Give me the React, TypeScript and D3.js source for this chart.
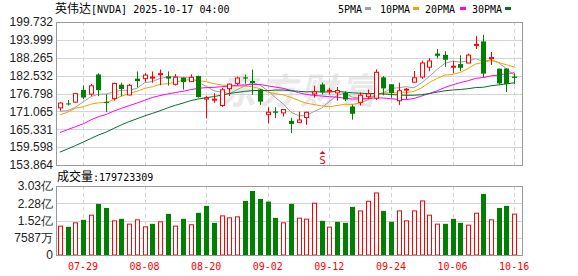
import React from "react";
import * as d3 from "d3";

const dates = ["07-24","07-25","07-28","07-29","07-30","07-31","08-01","08-04","08-05","08-06","08-07","08-08","08-11","08-12","08-13","08-14","08-15","08-18","08-19","08-20","08-21","08-22","08-25","08-26","08-27","08-28","08-29","09-02","09-03","09-04","09-05","09-08","09-09","09-10","09-11","09-12","09-15","09-16","09-17","09-18","09-19","09-22","09-23","09-24","09-25","09-26","09-29","09-30","10-01","10-02","10-03","10-06","10-07","10-08","10-09","10-10","10-13","10-14","10-15","10-16"];
const opens = [172.19,173.61,174.02,177.96,176.6,182.9,174.09,175.16,179.62,176.33,181.56,181.57,181.9,182.96,182.3,179.75,181.88,180.6,182.43,175.0,174.85,172.94,178.35,180.06,181.98,180.82,178.11,170.0,171.06,170.57,168.03,167.55,169.08,176.64,179.68,177.77,177.0,177.0,172.64,173.98,175.77,175.3,181.97,179.77,174.48,178.17,180.43,182.08,185.24,189.6,189.19,185.5,186.23,186.57,192.23,193.51,187.97,184.77,184.8,182.23];
const highs = [174.0,174.72,177.0,179.38,179.89,183.3,176.54,180.26,180.26,179.88,183.88,183.3,183.85,184.48,183.9,183.03,181.9,182.94,182.5,176.0,176.9,178.58,180.0,182.2,182.84,184.47,178.15,172.38,172.41,171.86,169.03,170.96,170.98,179.29,180.28,178.59,178.85,177.5,173.2,177.1,178.08,184.55,182.42,179.78,180.26,178.6,184.0,187.35,188.14,191.05,190.36,187.23,189.06,189.6,195.3,195.62,190.11,184.8,184.87,183.28];
const lows = [171.3,172.96,173.97,175.02,176.04,175.93,170.89,174.52,175.9,176.24,178.8,180.4,180.25,179.46,179.35,179.35,178.04,180.59,175.47,168.8,173.82,172.44,176.0,179.45,179.96,176.41,173.15,167.22,168.89,169.41,164.07,167.35,166.73,175.47,176.48,176.45,174.51,174.38,168.41,172.96,175.18,174.71,176.21,175.4,173.13,174.9,180.32,181.48,183.9,188.06,185.38,183.33,184.0,186.54,191.06,182.05,185.96,179.7,177.29,179.77];
const closes = [173.74,173.5,176.75,175.51,179.27,177.87,173.72,180.0,178.26,179.42,180.77,182.7,182.06,183.16,181.59,182.02,180.45,182.01,175.64,175.4,174.98,177.99,179.81,181.77,181.6,180.17,174.18,170.78,170.62,171.66,167.02,168.31,170.76,177.33,177.17,177.82,177.75,174.88,170.29,176.24,176.67,183.61,178.43,176.97,177.69,178.19,181.85,186.58,187.24,188.89,187.62,185.54,185.04,189.11,192.57,183.16,188.32,180.03,179.83,181.81];
// volume in millions of shares
const volumes = [126.9,124.0,141.5,154.7,175.0,224.7,207.0,150.3,159.0,135.7,154.7,124.0,137.0,145.9,181.0,127.0,159.0,133.0,185.3,216.0,141.5,172.0,163.4,167.8,237.8,281.6,246.6,234.9,163.4,141.5,224.7,162.0,157.6,227.6,150.3,122.6,145.9,141.5,211.6,194.0,236.4,272.9,194.0,145.9,194.0,150.3,194.0,237.8,175.0,135.7,137.0,159.0,141.5,131.3,183.8,268.5,154.7,207.0,216.0,179.723309];
// closes before the window (for moving averages)
const priorCloses = [142.83,145.0,141.97,144.69,144.12,145.48,143.85,144.17,147.9,154.31,155.02,157.75,157.99,153.3,157.25,159.34,158.24,160.0,162.88,164.1,164.92,164.07,170.7,171.37,173.0,172.41,171.38,167.03,170.78];

const priceTicks = [153.864,159.598,165.331,171.065,176.798,182.532,188.265,193.999,199.732];
const volTicks = [0, 75.87, 151.73, 227.6, 303.46];
const volTickLabels = ["0","7587万","1.52亿","2.28亿","3.03亿"];
const xTickDates = ["07-29","08-08","08-20","09-02","09-12","09-24","10-06","10-16"];
const maPeriods = [5, 10, 20, 30];
const maNames = ["5PMA","10PMA","20PMA","30PMA"];
const maColors = ["#a0a0a0","#f5a000","#ff00ff","#00702a"];

const RED = "#ff0000";
const GREEN = "#008000";
const GRID = "#d4d4d4";
const FRAME = "#999999";

export default function App() {
  const L = 56, R = 522;
  const mainTop = 22, mainBot = 165;
  const volTop = 186, volBot = 255;

  const x = d3.scaleBand<string>().domain(dates).range([56, 518]);
  const cx = (d: string) => (x(d) as number) + x.bandwidth() / 2;
  const y = d3.scaleLinear().domain([153.864, 199.732]).range([mainBot, mainTop]);
  const yv = d3.scaleLinear().domain([0, 303.46]).range([volBot, volTop]);

  const all = [...priorCloses, ...closes];
  const off = priorCloses.length;
  const mas = maPeriods.map((p) =>
    closes.map((_, i) => d3.mean(all.slice(off + i - p + 1, off + i + 1)) as number)
  );
  const line = d3.line<number>().x((_, i) => cx(dates[i])).y((v) => y(v));

  const bw = 5;
  const mono = "'DejaVu Sans Mono', 'Liberation Mono', monospace";
  const cjk = "'Noto Sans CJK SC', sans-serif";
  const sans = "'Liberation Sans', Arial, sans-serif";

  const legendX = [338, 380, 425, 472];
  const swatchX = [365, 413, 460, 505];
  const sIdx = dates.indexOf("09-11");

  return (
    <svg width={578} height={276} style={{ position: "absolute", left: 0, top: 0, background: "#fff" }}>
      {/* title */}
      <text x={55} y={13} fontSize={12} fill="#000">
        <tspan fontFamily={cjk}>英伟达</tspan>
        <tspan fontFamily={mono} fontSize={10}>[NVDA] 2025-10-17 04:00</tspan>
      </text>
      {/* legend */}
      {maNames.map((n, k) => (
        <g key={n}>
          <text x={legendX[k]} y={13} fontFamily={mono} fontSize={10} fill="#000">{n}</text>
          <rect x={swatchX[k]} y={7} width={6} height={3} fill={maColors[k]} />
        </g>
      ))}

      {/* watermark */}
      <text x={300} y={104} textAnchor="middle" fontFamily={cjk} fontSize={36} fontWeight={700}
        fontStyle="italic" fill="#e9e9e9" letterSpacing={4}>东方财富</text>

      {/* main grid */}
      {priceTicks.slice(1, -1).map((t) => (
        <line key={t} x1={L} x2={R} y1={Math.round(y(t)) + 0.5} y2={Math.round(y(t)) + 0.5} stroke={GRID} />
      ))}
      {xTickDates.map((d) => (
        <line key={d} x1={Math.round(cx(d)) + 0.5} x2={Math.round(cx(d)) + 0.5} y1={mainTop} y2={mainBot}
          stroke={GRID} strokeDasharray="4,3" />
      ))}
      {/* volume grid */}
      {volTicks.slice(1, -1).map((t) => (
        <line key={t} x1={L} x2={R} y1={Math.round(yv(t)) + 0.5} y2={Math.round(yv(t)) + 0.5} stroke={GRID} />
      ))}
      {xTickDates.map((d) => (
        <line key={"v" + d} x1={Math.round(cx(d)) + 0.5} x2={Math.round(cx(d)) + 0.5} y1={volTop} y2={volBot}
          stroke={GRID} strokeDasharray="4,3" />
      ))}

      {/* MA lines */}
      {mas.map((m, k) => (
        <path key={k} d={line(m) || ""} fill="none" stroke={maColors[k]} strokeWidth={1} />
      ))}

      {/* candles */}
      {dates.map((d, i) => {
        const up = closes[i] >= opens[i];
        const c = up ? RED : GREEN;
        const xc = Math.round(cx(d)) + 0.5;
        const top = y(Math.max(opens[i], closes[i]));
        const bot = y(Math.min(opens[i], closes[i]));
        const h = Math.max(1, bot - top);
        return (
          <g key={d}>
            <line x1={xc} x2={xc} y1={y(highs[i])} y2={y(lows[i])} stroke={c} />
            {up ? (
              <rect x={xc - 2} y={top} width={bw - 1} height={h} fill="#fff" stroke={c} />
            ) : (
              <rect x={xc - 2.5} y={top} width={bw} height={h} fill={c} />
            )}
          </g>
        );
      })}

      {/* S marker */}
      <g fill={RED}>
        <path d={`M${Math.round(cx(dates[sIdx])) + 0.5},151 l-3,3 h6 z`} />
        <text x={Math.round(cx(dates[sIdx])) + 0.5} y={164} textAnchor="middle" fontFamily={mono} fontSize={11}>S</text>
      </g>

      {/* volume bars */}
      {dates.map((d, i) => {
        const up = i === 0 ? closes[i] >= opens[i] : closes[i] >= closes[i - 1];
        const xc = Math.round(cx(d)) + 0.5;
        const top = yv(volumes[i]);
        return up ? (
          <rect key={"vb" + d} x={xc - 2} y={top} width={bw - 1} height={volBot - top} fill="#fff" stroke={RED} />
        ) : (
          <rect key={"vb" + d} x={xc - 2.5} y={top} width={bw} height={volBot - top} fill={GREEN} />
        );
      })}

      {/* frames */}
      <rect x={L + 0.5} y={mainTop + 0.5} width={R - L} height={mainBot - mainTop} fill="none" stroke={FRAME} />
      <rect x={L + 0.5} y={volTop + 0.5} width={R - L} height={volBot - volTop} fill="none" stroke={FRAME} />

      {/* price axis labels */}
      {priceTicks.map((t) => (
        <text key={t} x={53} y={y(t)} dy="0.36em" textAnchor="end" fontFamily={sans} fontSize={12} fill="#222">
          {t.toFixed(3)}
        </text>
      ))}
      {/* volume axis labels */}
      {volTicks.map((t, k) => (
        <text key={t} x={53} y={yv(t)} dy="0.36em" textAnchor="end" fontFamily={sans} fontSize={12} fill="#222">
          {volTickLabels[k]}
        </text>
      ))}
      {/* volume title */}
      <text x={57} y={181} fontSize={12} fill="#000">
        <tspan fontFamily={cjk}>成交量</tspan>
        <tspan fontFamily={mono} fontSize={10}>:{Math.round(volumes[volumes.length - 1] * 1e6)}</tspan>
      </text>
      {/* x labels */}
      {xTickDates.map((d) => (
        <text key={"xl" + d} x={cx(d)} y={270} textAnchor="middle" fontFamily={mono} fontSize={10} fill={RED}>
          {d}
        </text>
      ))}
    </svg>
  );
}
